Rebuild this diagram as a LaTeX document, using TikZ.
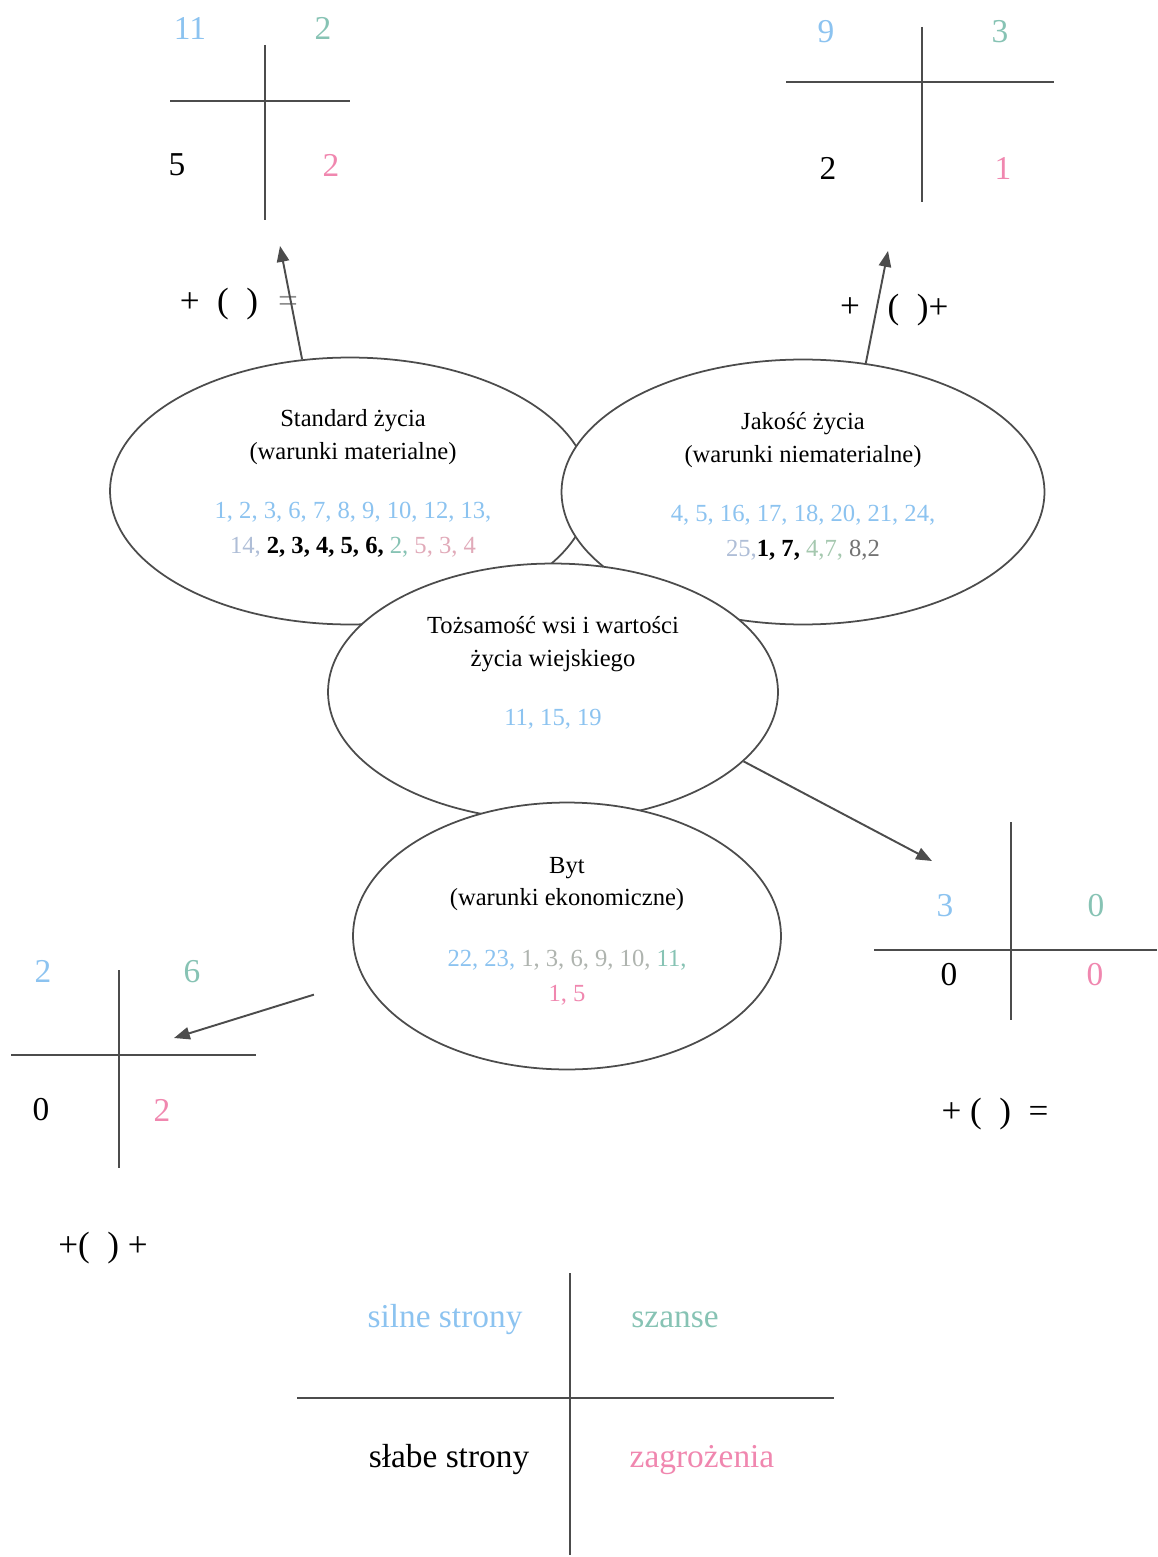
\documentclass[tikz,border=0pt]{standalone}
\usepackage{fontspec}
\setmainfont{Liberation Serif}
\usepackage{xcolor}
\usetikzlibrary{arrows.meta,positioning,shapes.geometric}
\definecolor{sblue}{RGB}{140,195,240}
\definecolor{steal}{RGB}{135,195,180}
\definecolor{spink}{RGB}{240,135,175}
\definecolor{fblue}{RGB}{175,190,215}
\definecolor{fpink}{RGB}{225,170,185}
\definecolor{fgreen}{RGB}{165,200,175}
\definecolor{fgrey}{RGB}{175,180,175}

\begin{document}
\begin{tikzpicture}[x=0.02cm,y=-0.02cm,>=Stealth,
  oval/.style={draw=black!70,line width=1pt,ellipse,fill=white,inner sep=0pt},
  axis/.style={draw=black!70,line width=1pt},
  num/.style={font=\fontsize{19}{19}\selectfont},
  sum/.style={font=\fontsize{20}{20}\selectfont},
  lbl/.style={font=\fontsize{14}{18.5}\selectfont,align=center},
  vals/.style={font=\fontsize{14}{20}\selectfont,align=center},
  link/.style={draw=black!70,line width=1.1pt,-{Triangle[length=9pt,width=7pt]}}]
  \useasboundingbox (0,0) rectangle (1157,1557);

  % ovals, later ones cover earlier ones
  \node[oval,minimum width=9.6cm,minimum height=5.34cm] (std) at (350,491) {};
  \node[lbl] (stdtitle) at (353,437) {Standard życia\\(warunki materialne)};
  \node[vals] (stdvals) at (353,530) {{\color{sblue}1, 2, 3, 6, 7, 8, 9, 10, 12, 13,}\\
    {\color{fblue}14,} \textbf{2, 3, 4, 5, 6,} {\color{steal}2,} {\color{fpink}5, 3, 4}};
  \node[oval,minimum width=9.66cm,minimum height=5.3cm] (jak) at (803,492) {};
  \node[lbl] (jaktitle) at (803,440) {Jakość życia\\(warunki niematerialne)};
  \node[vals] (jakvals) at (803,533) {{\color{sblue}4, 5, 16, 17, 18, 20, 21, 24,}\\
    {\color{fblue}25,}\textbf{1, 7,} {\color{fgreen}4,7,} {\color{black!55}8,2}};
  \node[oval,minimum width=9cm,minimum height=5.14cm] (toz) at (553,692) {};
  \node[lbl] (toztitle) at (553,644) {Tożsamość wsi i wartości\\życia wiejskiego};
  \node[vals,text=sblue] (tozvals) at (553,719) {11, 15, 19};
  \node[oval,minimum width=8.56cm,minimum height=5.34cm] (byt) at (567,936) {};
  \node[lbl] (byttitle) at (567,884) {Byt\\(warunki ekonomiczne)};
  \node[vals] (bytvals) at (567,978) {{\color{sblue}22, 23,} {\color{fgrey}1, 3, 6, 9, 10,} {\color{steal}11,}\\
    {\color{spink}1, 5}};

  % crosses
  \draw[axis] (265,45) -- (265,220) (170,101) -- (350,101);
  \node[num,text=sblue] (tl1) at (190,28) {11};
  \node[num,text=steal] (tl2) at (323,28) {2};
  \node[num] (tl3) at (177,165) {5};
  \node[num,text=spink] (tl4) at (331,165) {2};
  \draw[axis] (922,27) -- (922,202) (786,82) -- (1054,82);
  \node[num,text=sblue] (tr1) at (826,32) {9};
  \node[num,text=steal] (tr2) at (1000,32) {3};
  \node[num] (tr3) at (828,168) {2};
  \node[num,text=spink] (tr4) at (1003,168) {1};
  \draw[axis] (1011,822) -- (1011,1020) (874,950) -- (1157,950);
  \node[num,text=sblue] (rm1) at (945,906) {3};
  \node[num,text=steal] (rm2) at (1096,906) {0};
  \node[num] (rm3) at (949,975) {0};
  \node[num,text=spink] (rm4) at (1095,975) {0};
  \draw[axis] (119,970) -- (119,1168) (11,1055) -- (256,1055);
  \node[num,text=sblue] (lm1) at (43,971) {2};
  \node[num,text=steal] (lm2) at (192,972) {6};
  \node[num] (lm3) at (41,1110) {0};
  \node[num,text=spink] (lm4) at (162,1110) {2};

  % sums
  \node[sum] (tlsum) at (219,304) {+\ \ (\ \ )};
  \node[sum,text=black!45] (tleq) at (288,304) {=};
  \node[sum] (trplus) at (850,308) {+};
  \node[sum] (trsum) at (918,310) {(\ \ )+};
  \node[sum] (rmsum) at (995,1114) {+\ (\ \ )\ \ =};
  \node[sum] (lmsum) at (103,1248) {+(\ \ )\ +};

  % arrows
  \coordinate (tlhead) at (280,246);
  \coordinate (trhead) at (888,251);
  \coordinate (rmhead) at (932,861);
  \coordinate (lmhead) at (174,1038);
  \draw[link] (std.110) -- (tlhead);
  \draw[link] (jak.64) -- (trhead);
  \draw[link] (toz.-20) -- (rmhead);
  \draw[link,shorten <=1.04cm] (byt.192) -- (lmhead);

  % legend
  \draw[axis] (570,1273) -- (570,1555) (297,1398) -- (834,1398);
  \node[num,text=sblue] (strong) at (445,1320) {silne strony};
  \node[num,text=steal] (chance) at (675,1320) {szanse};
  \node[num] (weak) at (449,1460) {słabe strony};
  \node[num,text=spink] (threat) at (702,1460) {zagrożenia};
\end{tikzpicture}
\end{document}
